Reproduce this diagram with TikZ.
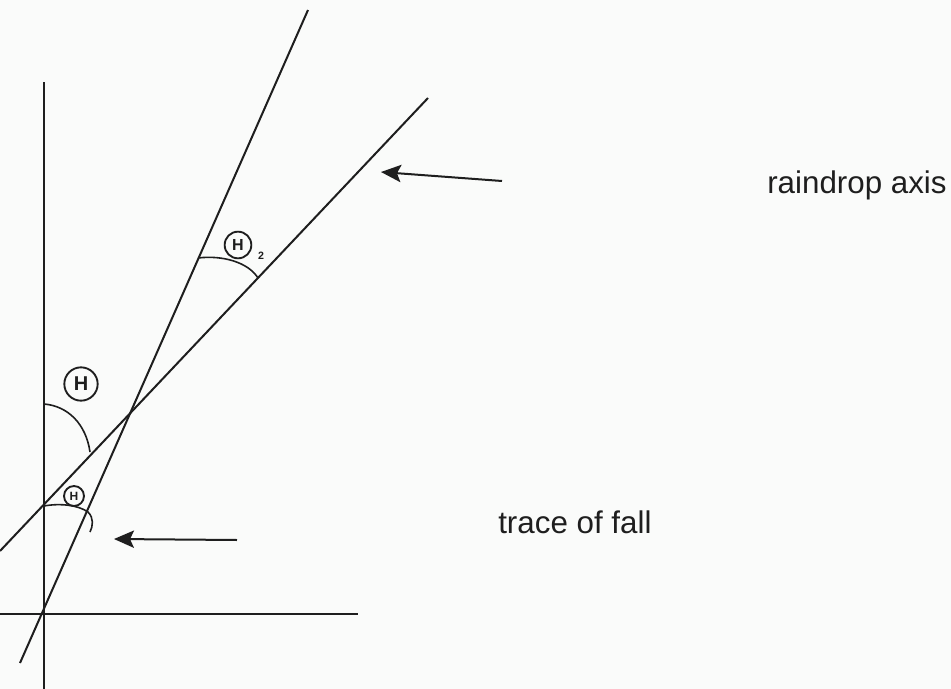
\documentclass[tikz,border=0pt]{standalone}
\usepackage{fontspec}
\setsansfont{Liberation Sans}
\usetikzlibrary{arrows.meta}
\definecolor{ink}{RGB}{30,30,30}
\definecolor{paper}{RGB}{250,251,250}
\begin{document}
\begin{tikzpicture}[x=0.75pt,y=-0.75pt,
  lin/.style={line width=1.5pt, draw=ink},
  arcline/.style={line width=1.2pt, draw=ink},
  pointer/.style={line width=1.5pt, draw=ink, -{Stealth[length=15pt,width=13pt,inset=3pt]}},
  lbl/.style={font=\sffamily\fontsize{23.5}{28}\selectfont, text=ink, inner sep=0pt, anchor=base west},
  circ/.style={circle, draw=ink, line width=1.4pt, inner sep=0pt, text=ink}
]
\useasboundingbox[fill=paper] (0,0) rectangle (951,689);

% axes
\coordinate (vtop) at (44,82);
\coordinate (vbot) at (44,689);
\coordinate (hleft) at (0,614);
\coordinate (hright) at (358,614);
\draw[lin] (vtop) -- (vbot);
\draw[lin] (hleft) -- (hright);

% trace of fall line
\coordinate (tbot) at (20,663);
\coordinate (ttop) at (308,10);
\draw[lin] (tbot) -- (ttop);

% raindrop axis line
\coordinate (rbot) at (0,551);
\coordinate (rtop) at (428,98);
\draw[lin] (rbot) -- (rtop);

% angle arcs
\draw[arcline] (44,404) .. controls (68,406) and (86,424) .. (90,452);
\draw[arcline] (44,506) .. controls (60,503) and (78,505) .. (88,512) .. controls (94,518) and (93,526) .. (90,532);
\draw[arcline] (198,258) .. controls (222,255) and (248,262) .. (258,278);

% angle labels
\node[circ, minimum size=25pt, font=\sffamily\bfseries\fontsize{15}{15}\selectfont] (th) at (81,384) {H};
\node[circ, minimum size=15pt, font=\sffamily\bfseries\fontsize{9}{9}\selectfont] (th1) at (74,496) {H};
\node[circ, minimum size=20pt, font=\sffamily\bfseries\fontsize{12}{12}\selectfont] (th2) at (238,245) {H};
\node[inner sep=0pt, text=ink, font=\sffamily\bfseries\fontsize{8}{8}\selectfont] (th2sub) at (261,256) {2};

% pointers
\coordinate (a1tail) at (502,181);
\coordinate (a1tip) at (381,172);
\draw[pointer] (a1tail) -- (a1tip);
\coordinate (a2tail) at (237,540);
\coordinate (a2tip) at (114,539);
\draw[pointer] (a2tail) -- (a2tip);

% text labels
\node[lbl] (rain) at (767,193) {raindrop axis};
\node[lbl] (trace) at (498,533) {trace of fall};
\end{tikzpicture}
\end{document}
